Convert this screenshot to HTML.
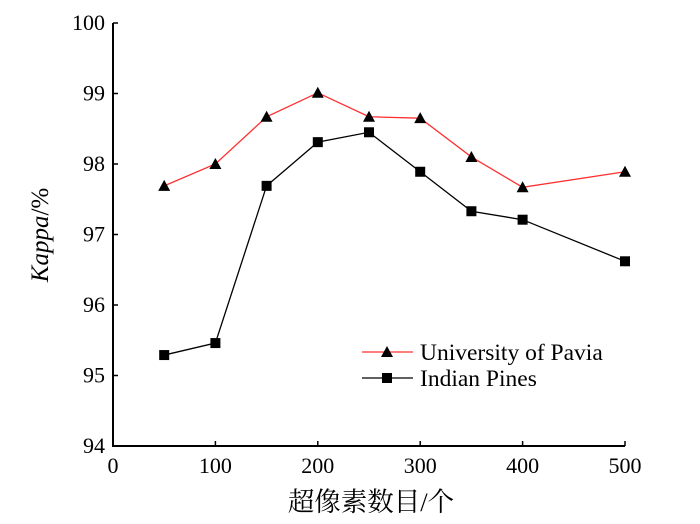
<!DOCTYPE html>
<html><head><meta charset="utf-8"><style>
body{margin:0;background:#fff;}
svg{display:block;font-family:"Liberation Serif","Noto Serif CJK SC",serif;}
</style></head><body>
<svg id="chart" width="700" height="524"></svg>
<script>
const xCats=[50,100,150,200,250,300,350,400,500];
const pavia=[97.69,98.0,98.67,99.01,98.67,98.65,98.1,97.67,97.89];
const indian=[95.29,95.46,97.69,98.31,98.45,97.89,97.33,97.21,96.62];
const xTicks=[0,100,200,300,400,500];
const yTicks=[94,95,96,97,98,99,100];
const NS="http://www.w3.org/2000/svg";
const svg=document.getElementById('chart');
const X0=113,X1=625,Y0=446,Y1=23;
const xs=v=>X0+(v-0)/500*(X1-X0);
const ys=v=>Y0-(v-94)/6*(Y0-Y1);
function mk(t,a,p){const e=document.createElementNS(NS,t);for(const k in a)e.setAttribute(k,a[k]);(p||svg).appendChild(e);return e;}
const ax=mk('g',{});


mk('path',{d:`M${X0},${Y1}V${Y0}H${X1}`,fill:'none',stroke:'#000','stroke-width':2},ax);
xTicks.forEach(v=>{
  mk('line',{x1:xs(v),x2:xs(v),y1:Y0,y2:Y0-5,stroke:'#000','stroke-width':1.5},ax);
  const t=mk('text',{x:xs(v),y:Y0+27,'text-anchor':'middle','font-size':22},ax);t.textContent=v;
  
  
});
yTicks.forEach(v=>{
  mk('line',{x1:X0,x2:X0+5,y1:ys(v),y2:ys(v),stroke:'#000','stroke-width':1.5},ax);
  const t=mk('text',{x:X0-8,y:ys(v)+7,'text-anchor':'end','font-size':22},ax);t.textContent=v;
  
  
});
const xt=mk('text',{x:371,y:511,'text-anchor':'middle','font-size':26.5});
xt.textContent='超像素数目/个';


const yt=mk('text',{x:0,y:0,'text-anchor':'middle','font-size':25,transform:'translate(48,235) rotate(-90)'});
yt.innerHTML='<tspan font-style="italic">Kappa</tspan>/%';


function series(vals,color,marker,name){
  const g=mk('g',{});
  
  
  mk('polyline',{points:vals.map((v,i)=>xs(xCats[i])+','+ys(v)).join(' '),fill:'none',stroke:color,'stroke-width':1.3},g);
  vals.forEach((v,i)=>{
    const x=xs(xCats[i]),y=ys(v);
    let m;
    if(marker==='tri') m=mk('polygon',{points:`${x},${y-6} ${x-6},${y+5} ${x+6},${y+5}`,fill:'#000'},g);
    else m=mk('rect',{x:x-5,y:y-5,width:10,height:10,fill:'#000'},g);
    
    
  });
}
series(pavia,'#ff3030','tri','series-pavia');
series(indian,'#000','sq','series-indian');
const lg=mk('g',{});


mk('line',{x1:362,x2:413,y1:352,y2:352,stroke:'#ff3030','stroke-width':1.3},lg);
mk('polygon',{points:'387,346 381,357 393,357',fill:'#000'},lg);
let t1=mk('text',{x:420,y:360,'font-size':23.5},lg);t1.textContent='University of Pavia';


mk('line',{x1:362,x2:413,y1:378,y2:378,stroke:'#000','stroke-width':1.3},lg);
mk('rect',{x:382,y:373,width:10,height:10,fill:'#000'},lg);
let t2=mk('text',{x:420,y:386,'font-size':23.5},lg);t2.textContent='Indian Pines';


</script>
</body></html>
